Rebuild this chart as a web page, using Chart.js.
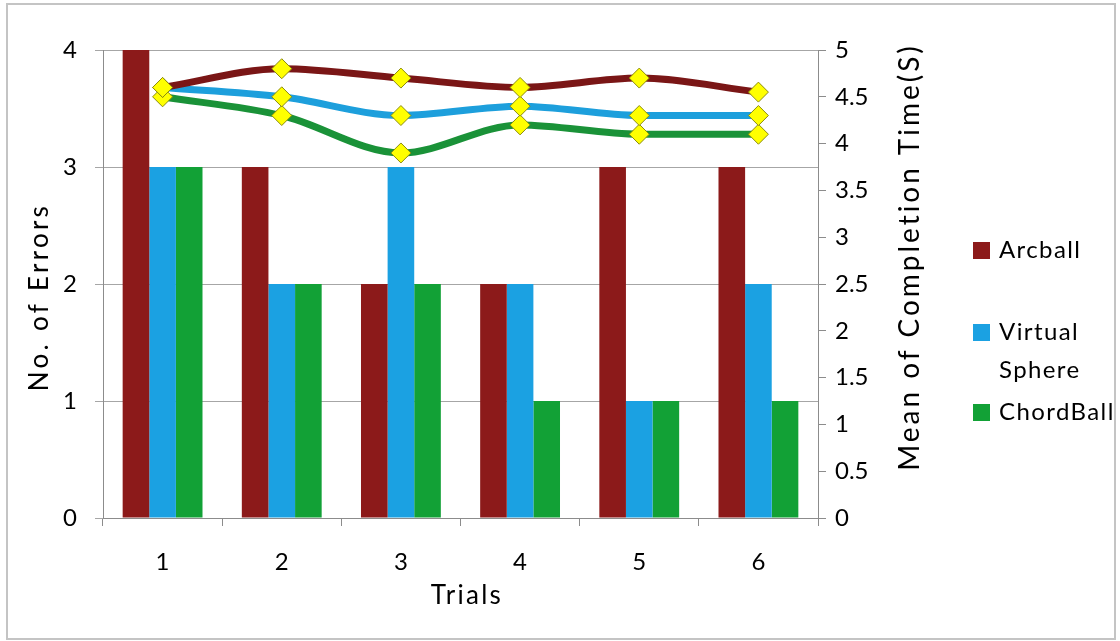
<!DOCTYPE html>
<html>
<head>
<meta charset="utf-8">
<script src="https://cdn.jsdelivr.net/npm/chart.js@4/dist/chart.umd.min.js"></script>
<style>
  body { margin: 0; background: #fff; }
  #wrap { width: 1120px; height: 641px; }
</style>
</head>
<body>
<div id="wrap"><canvas id="chart" width="1120" height="641"></canvas></div>
<script>
const trials = ["1", "2", "3", "4", "5", "6"];

// bars: number of errors (left axis)
const errArcball = [4, 3, 2, 2, 3, 3];
const errVirtual = [3, 2, 3, 2, 1, 2];
const errChord = [3, 2, 2, 1, 1, 1];

// lines: mean completion time in seconds (right axis)
const timeArcball = [4.6, 4.8, 4.7, 4.6, 4.7, 4.55];
const timeVirtual = [4.6, 4.5, 4.3, 4.4, 4.3, 4.3];
const timeChord = [4.5, 4.3, 3.9, 4.2, 4.1, 4.1];

const legendNames = [["Arcball"], ["Virtual", "Sphere"], ["ChordBall"]];

const red = "#8c1a1a";
const blue = "#1ba1e2";
const green = "#12a136";
const font = "Lato, 'Open Sans', sans-serif";

const lineStyle = (color, data) => ({
  type: "line",
  data: data,
  yAxisID: "y1",
  borderColor: color,
  borderWidth: 7,
  cubicInterpolationMode: "monotone",
  pointStyle: "rectRot",
  pointRadius: 10,
  pointBackgroundColor: "#ffff00",
  pointBorderColor: "#8a8a10",
  pointBorderWidth: 1,
  order: 0,
});

// text spread out to a given length (the source font runs wide)
function spreadText(ctx, text, x, y, len, angle) {
  ctx.save();
  ctx.translate(x, y);
  ctx.rotate(angle);
  const w = ctx.measureText(text).width;
  if ("letterSpacing" in ctx) {
    ctx.letterSpacing = ((len - w) / (text.length - 1)).toFixed(2) + "px";
    const w2 = ctx.measureText(text).width;
    ctx.textAlign = "left";
    ctx.fillText(text, -w2 / 2, 0);
  } else {
    ctx.scale(len / w, 1);
    ctx.fillText(text, 0, 0);
  }
  ctx.restore();
}

const extras = {
  id: "extras",
  afterDraw(chart) {
    const ctx = chart.ctx;
    ctx.save();
    // outer frame
    ctx.strokeStyle = "#c4c4c4";
    ctx.lineWidth = 2;
    ctx.strokeRect(7, 4, 1108, 635);

    // axis titles
    ctx.fillStyle = "#000";
    ctx.textAlign = "center";
    ctx.textBaseline = "middle";
    ctx.font = "26px " + font;
    spreadText(ctx, "No. of Errors", 40, 297, 185, -Math.PI / 2);
    spreadText(ctx, "Trials", 467, 596, 70, 0);
    ctx.font = "28px " + font;
    spreadText(ctx, "Mean of Completion Time(S)", 910, 257, 425, -Math.PI / 2);
    ctx.restore();

    // legend
    ctx.save();
    ctx.font = "24px " + font;
    ctx.textBaseline = "middle";
    ctx.textAlign = "left";
    if ("letterSpacing" in ctx) ctx.letterSpacing = "1.4px";
    const tops = [250, 332, 412];
    chart.data.datasets.slice(0, 3).forEach((ds, i) => {
      ctx.fillStyle = ds.backgroundColor;
      ctx.fillRect(973, tops[i] - 8, 17, 17);
      ctx.fillStyle = "#000";
      legendNames[i].forEach((t, j) => ctx.fillText(t, 999, tops[i] + j * 38));
    });
    ctx.restore();
  },
};

new Chart(document.getElementById("chart"), {
  type: "bar",
  data: {
    labels: trials,
    datasets: [
      { label: "Arcball", data: errArcball, backgroundColor: red, yAxisID: "y", order: 1 },
      { label: "Virtual Sphere", data: errVirtual, backgroundColor: blue, yAxisID: "y", order: 1 },
      { label: "ChordBall", data: errChord, backgroundColor: green, yAxisID: "y", order: 1 },
      lineStyle("#7a1616", timeArcball),
      lineStyle("#1d9fdc", timeVirtual),
      lineStyle("#1a9238", timeChord),
    ],
  },
  options: {
    responsive: false,
    animation: false,
    layout: { padding: { left: 22, right: 195, top: 50, bottom: 12 } },
    datasets: { bar: { categoryPercentage: 0.67, barPercentage: 1.0 } },
    plugins: { legend: { display: false }, tooltip: { enabled: false } },
    scales: {
      x: {
        offset: true,
        grid: { display: true, offset: true, drawOnChartArea: false, color: "#8c8c8c", tickLength: 8 },
        border: { color: "#8c8c8c" },
        ticks: { color: "#000", font: { family: font, size: 24 }, padding: 22 },
        afterFit: (s) => { s.height = 641 - 518 - 12; },
      },
      y: {
        position: "left",
        min: 0,
        max: 4,
        ticks: { stepSize: 1, color: "#000", font: { family: font, size: 24 }, padding: 18 },
        grid: { color: "#a6a6a6", tickLength: 8 },
        border: { color: "#8c8c8c" },
        afterFit: (s) => { s.width = 103 - 22; },
      },
      y1: {
        position: "right",
        min: 0,
        max: 5,
        ticks: {
          stepSize: 0.5,
          color: "#000",
          font: { family: font, size: 24 },
          padding: 9,
          callback: (v) => String(Number(v)),
        },
        grid: { drawOnChartArea: false, color: "#8c8c8c", tickLength: 8 },
        border: { color: "#8c8c8c" },
        afterFit: (s) => { s.width = 1120 - 195 - 818; },
      },
    },
  },
  plugins: [extras],
});
</script>
</body>
</html>
